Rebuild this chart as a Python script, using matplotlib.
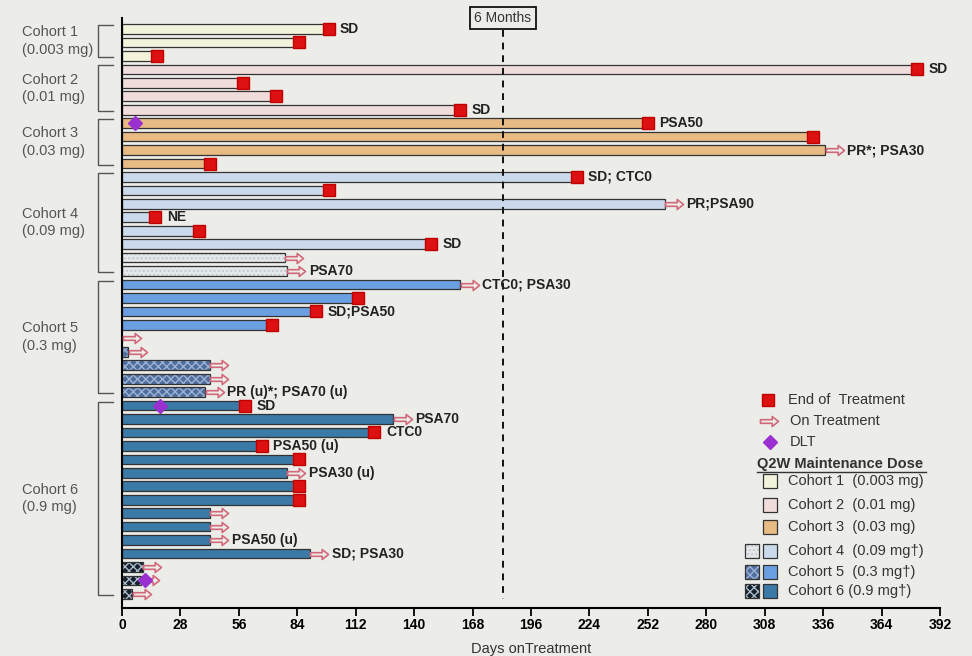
import matplotlib
matplotlib.use("Agg")
import matplotlib.pyplot as plt
from matplotlib.path import Path
from matplotlib.patches import Rectangle
import numpy as np

plt.rcParams['font.family'] = ['Liberation Sans', 'DejaVu Sans']

# grupos de dosis
cohortes = ["Cohort 1\n(0.003 mg)", "Cohort 2\n(0.01 mg)", "Cohort 3\n(0.03 mg)",
            "Cohort 4\n(0.09 mg)", "Cohort 5\n(0.3 mg)", "Cohort 6\n(0.9 mg)"]
pacientes_por_cohorte = [3, 4, 4, 8, 9, 15]

# dias en tratamiento por paciente (de arriba a abajo)
dias = [99, 85, 17,
        381, 58, 74, 162,
        252, 331, 337, 42,
        218, 99, 260, 16, 37, 148, 78, 79,
        162, 113, 93, 72, 0, 3, 42, 42, 40,
        59, 130, 121, 67, 85, 79, 85, 85, 42, 42, 42, 90, 10, 9, 5]

# E = fin de tratamiento, O = sigue en tratamiento
estado = ("EEE" "EEEE" "EEOE" "EEOEEEOO" "OEEEOOOOO" "EOEEEOEEOOOOOOO")

# pacientes con dosis de mantenimiento (barra rayada)
rayados = [17, 18, 23, 24, 25, 26, 27, 40, 41, 42]

# toxicidad limitante de dosis: paciente -> dia
dlt = {7: 6, 28: 18, 41: 11}

# respuestas
respuestas = {0: "SD", 3: "SD", 6: "SD", 7: "PSA50", 9: "PR*; PSA30",
              11: "SD; CTC0", 13: "PR;PSA90", 14: "NE", 16: "SD", 18: "PSA70",
              19: "CTC0; PSA30", 21: "SD;PSA50", 27: "PR (u)*; PSA70 (u)",
              28: "SD", 29: "PSA70", 30: "CTC0", 31: "PSA50 (u)",
              33: "PSA30 (u)", 38: "PSA50 (u)", 39: "SD; PSA30"}

dias_ticks = list(range(0, 393, 28))
seis_meses = 182.5

# colores
fondo = "#ecede9"
colores = ["#f3f3dc", "#f1dcdc", "#e8bb84", "#cad9eb", "#6aa0e2", "#3b79a7"]
rayado_color = {3: ("#e4e8ea", "#c3c9cc", "...."),
                4: ("#4f6f9f", "#9db3d6", "xxxx"),
                5: ("#14222e", "#aebccb", "xxxx")}
rojo = "#dd1111"
flecha_color = "#d2697a"
morado = "#9b30d0"

# marcador de flecha hueca
verts = [(-1, -0.2), (0.3, -0.2), (0.3, -0.55), (1, 0), (0.3, 0.55),
         (0.3, 0.2), (-1, 0.2), (-1, -0.2)]
codes = [Path.MOVETO] + [Path.LINETO] * 6 + [Path.CLOSEPOLY]
flecha = Path(verts, codes)

fig = plt.figure(figsize=(9.72, 6.56), dpi=100)
fig.patch.set_facecolor(fondo)
ax = fig.add_axes([122 / 972, 1 - 608 / 656, (940 - 122) / 972, (608 - 18) / 656])
ax.set_facecolor(fondo)

n = len(dias)
cohorte_de = []
for c, k in enumerate(pacientes_por_cohorte):
    cohorte_de += [c] * k

alto = 0.72
for i in range(n):
    c = cohorte_de[i]
    if i in rayados:
        cara, trama, patron = rayado_color[c]
        ax.barh(i, dias[i], height=alto, color=cara, edgecolor=trama,
                hatch=patron, linewidth=0, zorder=2)
        ax.barh(i, dias[i], height=alto, facecolor="none", edgecolor="#333333",
                linewidth=0.9, zorder=2)
    else:
        ax.barh(i, dias[i], height=alto, color=colores[c], edgecolor="#333333",
                linewidth=0.9, zorder=2)

    if estado[i] == "E":
        ax.plot(dias[i], i, marker="s", markersize=9, color=rojo,
                markeredgecolor="#c00000", zorder=5, clip_on=False)
        gap = 5.5
    else:
        ax.plot(dias[i] + 4.6, i, marker=flecha, markersize=13,
                markerfacecolor="none", markeredgecolor=flecha_color,
                markeredgewidth=1.2, zorder=5, clip_on=False)
        gap = 10.5
    if i in respuestas:
        ax.text(dias[i] + gap, i, respuestas[i], fontsize=10, fontweight="bold",
                va="center", ha="left", color="#222222", zorder=6)

for i, d in dlt.items():
    ax.plot(d, i, marker="D", markersize=7.5, color=morado, zorder=6)

# corchetes de cohortes
inicio = 0
for c, k in enumerate(pacientes_por_cohorte):
    y0 = inicio - 0.3
    y1 = inicio + k - 1 + 0.1
    ax.plot([-4.3, -11.5, -11.5, -4.3], [y0, y0, y1, y1], color="#555555",
            linewidth=1, clip_on=False)
    ax.text(-47.9, (y0 + y1) / 2, cohortes[c], fontsize=10.5, color="#555555",
            ha="left", va="center", linespacing=1.3, clip_on=False)
    inicio += k

# linea de 6 meses
ax.plot([seis_meses, seis_meses], [0.1, 42.4], color="#111111", linewidth=1.4,
        dashes=(3.5, 3), zorder=4, clip_on=False)
ax.text(seis_meses, -0.82, "6 Months", fontsize=10, ha="center", va="center",
        color="#333333",
        bbox=dict(boxstyle="square,pad=0.3", facecolor=fondo, edgecolor="#111111",
                  linewidth=1.3))

ax.set_xlim(0, 392)
ax.set_ylim(43.05, -0.82)
ax.set_yticks([])
ax.set_xticks(dias_ticks)
ax.set_xticklabels([str(t) for t in dias_ticks], fontsize=10, fontweight="bold",
                   family=['Liberation Sans Narrow', 'Liberation Sans'])
ax.tick_params(axis="x", length=6, width=1.3, direction="out", pad=1.5)
for s in ["top", "right"]:
    ax.spines[s].set_visible(False)
ax.spines["left"].set_linewidth(1.5)
ax.spines["bottom"].set_linewidth(1.5)
ax.set_xlabel("Days onTreatment", fontsize=10.5, color="#333333", labelpad=7,
              family=['Liberation Sans Narrow', 'Liberation Sans'])

# leyenda dibujada a mano en pixeles
lg = fig.add_axes([0, 0, 1, 1], zorder=10)
lg.set_xlim(0, 972)
lg.set_ylim(656, 0)
lg.axis("off")
lg.patch.set_alpha(0)

lg.plot(768, 400, marker="s", markersize=9, color=rojo, markeredgecolor="#c00000")
lg.text(788, 400, "End of  Treatment", fontsize=10.5, va="center", color="#333333")
lg.plot(769, 421, marker=flecha, markersize=13, markerfacecolor="none",
        markeredgecolor=flecha_color, markeredgewidth=1.2)
lg.text(790, 421, "On Treatment", fontsize=10.5, va="center", color="#333333")
lg.plot(770, 442, marker="D", markersize=7.5, color=morado)
lg.text(790, 442, "DLT", fontsize=10.5, va="center", color="#333333")
lg.text(757, 464, "Q2W Maintenance Dose", fontsize=10.5, fontweight="bold",
        va="center", color="#333333")
lg.plot([757, 926], [472, 472], color="#333333", linewidth=1)

ley_y = [481, 505, 527, 551, 572, 591]
ley_txt = ["Cohort 1  (0.003 mg)", "Cohort 2  (0.01 mg)", "Cohort 3  (0.03 mg)",
           "Cohort 4  (0.09 mg\u2020)", "Cohort 5  (0.3 mg\u2020)",
           "Cohort 6 (0.9 mg\u2020)"]
for c in range(6):
    y = ley_y[c]
    lg.add_patch(Rectangle((763, y - 7), 14, 14, facecolor=colores[c],
                           edgecolor="#333333", linewidth=0.9))
    if c in rayado_color:
        cara, trama, patron = rayado_color[c]
        lg.add_patch(Rectangle((745, y - 7), 14, 14, facecolor=cara,
                               edgecolor=trama, hatch=patron, linewidth=0))
        lg.add_patch(Rectangle((745, y - 7), 14, 14, facecolor="none",
                               edgecolor="#333333", linewidth=0.9))
    lg.text(788, y, ley_txt[c], fontsize=10.5, va="center", color="#333333")

fig.savefig("out.png", dpi=100, facecolor=fondo)
